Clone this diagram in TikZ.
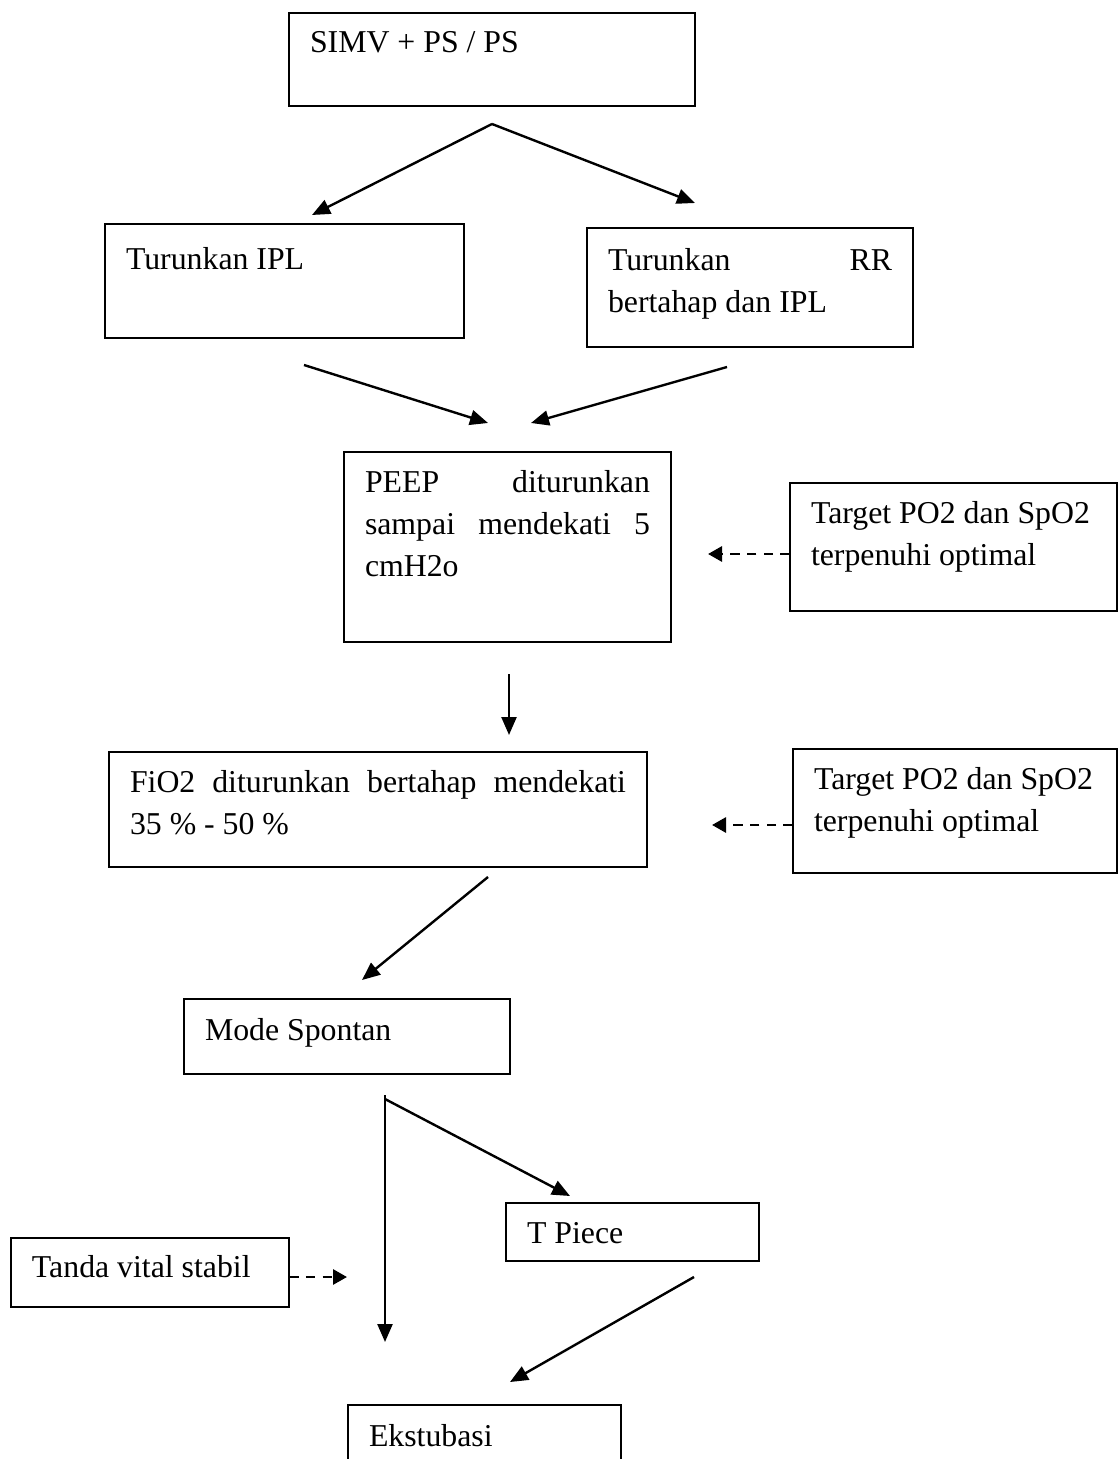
\documentclass[tikz,border=0pt]{standalone}
\usepackage{fontspec}
\setmainfont{Liberation Serif}
\usetikzlibrary{arrows.meta}
% text set at the top of a box: height, width, space above, text
\newcommand{\boxtext}[4]{\parbox[c][#1][t]{#2}{\vspace*{#3}\strut #4}}

\begin{document}
\begin{tikzpicture}[x=0.5pt,y=-0.5pt,
  box/.style={draw,line width=1pt,anchor=north west,inner xsep=10.5pt,inner ysep=0pt,outer sep=0pt,font=\fontsize{15.9}{21}\selectfont},
  arr/.style={line width=1.2pt,-{Triangle[length=9pt,width=7.5pt]}},
  dasharr/.style={line width=1.4pt,dash pattern=on 4.8pt off 3.6pt,-{Triangle[length=7pt,width=7.5pt]}}]
\useasboundingbox (0,0) rectangle (1118,1459);

\node[box] (simv) at (289,13) {\boxtext{46.5pt}{182pt}{5.3pt}{SIMV + PS / PS}};
\node[box] (ipl) at (105,224) {\boxtext{57pt}{158.5pt}{8.3pt}{Turunkan IPL}};
\node[box] (rr) at (587,228) {\boxtext{59.5pt}{142pt}{6.8pt}{Turunkan\hfill RR\\bertahap dan IPL}};
\node[box] (peep) at (344,452) {\boxtext{95pt}{142.5pt}{5.3pt}{PEEP\hfill diturunkan\\sampai\hfill mendekati\hfill 5\\cmH2o}};
\node[box] (target1) at (790,483) {\boxtext{64pt}{142.5pt}{5.3pt}{Target PO2 dan SpO2\\terpenuhi optimal}};
\node[box] (fio2) at (109,752) {\boxtext{57.5pt}{248pt}{5.3pt}{FiO2\hfill diturunkan\hfill bertahap\hfill mendekati\\35 \% - 50 \%}};
\node[box] (target2) at (793,749) {\boxtext{62pt}{141pt}{5.3pt}{Target PO2 dan SpO2\\terpenuhi optimal}};
\node[box] (mode) at (184,999) {\boxtext{37.5pt}{142pt}{5.8pt}{Mode Spontan}};
\node[box] (tpiece) at (506,1203) {\boxtext{29pt}{105.5pt}{5.3pt}{T Piece}};
\node[box] (tanda) at (11,1238) {\boxtext{34.5pt}{118pt}{4.8pt}{Tanda vital stabil}};
\node[box] (ekstubasi) at (348,1405) {\boxtext{40pt}{115.5pt}{5.8pt}{Ekstubasi}};

% free ends of the arrows
\coordinate (split) at (492,124);
\coordinate (toipl) at (312,215);
\coordinate (torr) at (695,203);
\coordinate (fromipl) at (304,365);
\coordinate (fromrr) at (727,367);
\coordinate (intopeep1) at (488,423);
\coordinate (intopeep2) at (531,423);
\coordinate (t1out) at (790,554);
\coordinate (t1in) at (708,554);
\coordinate (frompeep) at (509,674);
\coordinate (tofio2) at (509,735);
\coordinate (t2out) at (793,825);
\coordinate (t2in) at (712,825);
\coordinate (fromfio2) at (488,877);
\coordinate (tomode) at (362,980);
\coordinate (fork) at (385,1095);
\coordinate (forkb) at (385,1099);
\coordinate (downend) at (385,1342);
\coordinate (totpiece) at (570,1196);
\coordinate (tandaout) at (289,1277);
\coordinate (tandain) at (347,1277);
\coordinate (fromtpiece) at (694,1277);
\coordinate (toekst) at (510,1382);

\draw[arr] (split) -- (toipl);
\draw[arr] (split) -- (torr);
\draw[arr] (fromipl) -- (intopeep1);
\draw[arr] (fromrr) -- (intopeep2);
\draw[dasharr] (t1out) -- (t1in);
\draw[arr] (frompeep) -- (tofio2);
\draw[dasharr] (t2out) -- (t2in);
\draw[arr] (fromfio2) -- (tomode);
\draw[arr] (fork) -- (downend);
\draw[arr] (forkb) -- (totpiece);
\draw[dasharr] (tandaout) -- (tandain);
\draw[arr] (fromtpiece) -- (toekst);
\end{tikzpicture}
\end{document}
